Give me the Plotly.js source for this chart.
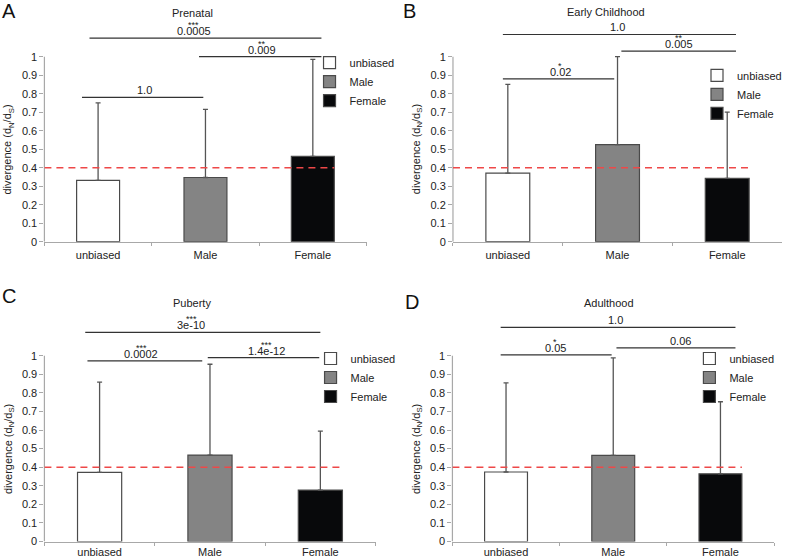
<!DOCTYPE html>
<html>
<head>
<meta charset="utf-8">
<script src="https://cdn.plot.ly/plotly-3.0.1.min.js"></script>
<style>
  body { margin: 0; background: #fff; }
  #grafica { width: 787px; height: 559px; }
</style>
</head>
<body>
<div id="grafica"></div>
<script>
const categories = ['unbiased', 'Male', 'Female'];
const panelTitles = ['Prenatal', 'Early Childhood', 'Puberty', 'Adulthood'];
const panelLetters = ['A', 'B', 'C', 'D'];

// mean divergence per category
const prenatal = [0.332, 0.347, 0.461];
const earlyChildhood = [0.371, 0.525, 0.342];
const puberty = [0.372, 0.465, 0.277];
const adulthood = [0.374, 0.463, 0.364];

// upper error bar length
const prenatalErr = [0.418, 0.368, 0.524];
const earlyChildhoodErr = [0.479, 0.475, 0.358];
const pubertyErr = [0.486, 0.489, 0.317];
const adulthoodErr = [0.48, 0.525, 0.388];

// brackets: [from, to, height, label x, p value, stars]
const prenatalBrackets = [[-0.15, 0.98, 0.78, 0.435, '1.0', ''], [0.94, 2.08, 1.0, 1.53, '0.009', '**'], [-0.08, 2.08, 1.1, 0.89, '0.0005', '***']];
const earlyChildhoodBrackets = [[-0.045, 0.97, 0.88, 0.48, '0.02', '*'], [1.035, 2.08, 1.03, 1.56, '0.005', '**'], [-0.045, 2.08, 1.12, 1.0, '1.0', '']];
const pubertyBrackets = [[-0.11, 0.93, 0.972, 0.377, '0.0002', '***'], [0.98, 1.99, 0.99, 1.51, '1.4e-12', '***'], [-0.13, 2.0, 1.125, 0.83, '3e-10', '***']];
const adulthoodBrackets = [[-0.05, 0.985, 1.004, 0.46, '0.05', '*'], [1.03, 2.14, 1.042, 1.63, '0.06', ''], [-0.05, 2.14, 1.152, 1.02, '1.0', '']];

const yTicks = [0, 0.1, 0.2, 0.3, 0.4, 0.5, 0.6, 0.7, 0.8, 0.9, 1];
const neutralLine = 0.4;

const medias = [prenatal, earlyChildhood, puberty, adulthood];
const errores = [prenatalErr, earlyChildhoodErr, pubertyErr, adulthoodErr];
const corchetes = [prenatalBrackets, earlyChildhoodBrackets, pubertyBrackets, adulthoodBrackets];

const colores = ['#ffffff', '#848484', '#08090b'];
const fuente = '"Liberation Sans", Arial, sans-serif';
const texto = '#222222';

// subplot placement
const xDom = [[0.0565, 0.4663], [0.5763, 0.995], [0.0565, 0.4778], [0.5756, 0.9848]];
const yDom = [[0.5676, 0.9648], [0.5676, 0.9648], [0.0313, 0.4302], [0.0313, 0.4302]];
const legendPos = [[0.3933, 0.914], [0.887, 0.891], [0.3946, 0.3846], [0.876, 0.3846]];
const tituloPos = [[193, 13], [607, 12], [192, 303], [610, 303]];
const letraPos = [[9, 11], [410, 11], [9, 296], [413, 302]];
const separacion = [3, 3, 0, 0];

const data = [];
const shapes = [];
const annotations = [];
const layout = {
    width: 787,
    height: 559,
    margin: { l: 0, r: 0, t: 0, b: 0 },
    paper_bgcolor: '#ffffff',
    plot_bgcolor: 'rgba(0,0,0,0)',
    barmode: 'overlay',
    font: { family: fuente, size: 11, color: texto },
    shapes: shapes,
    annotations: annotations
};

for (let p = 0; p < 4; p++) {
    const sufijo = p === 0 ? '' : String(p + 1);
    const xa = 'x' + sufijo, ya = 'y' + sufijo;
    const leyenda = 'legend' + sufijo;

    for (let i = 0; i < categories.length; i++) {
        data.push({
            type: 'bar',
            name: categories[i],
            x: [categories[i]],
            y: [medias[p][i]],
            xaxis: xa,
            yaxis: ya,
            width: 0.4,
            legend: leyenda,
            marker: { color: colores[i], line: { color: '#4a4a4a', width: 1.2 } },
            error_y: {
                type: 'data', symmetric: false,
                array: [errores[p][i]], arrayminus: [0],
                color: '#555555', thickness: 1.3, width: 2.5
            },
            hoverinfo: 'skip'
        });
    }

    layout['xaxis' + sufijo] = {
        domain: xDom[p], anchor: ya, type: 'category',
        categoryorder: 'array', categoryarray: categories,
        range: [-0.5, 2.5], showline: true, linecolor: '#a8a8a8', linewidth: 1.2,
        ticks: 'outside', tickson: 'boundaries', ticklen: 3, tickcolor: '#a8a8a8',
        ticklabelstandoff: separacion[p],
        showgrid: false, zeroline: false, fixedrange: true,
        tickfont: { family: fuente, size: 11, color: texto }
    };
    layout['yaxis' + sufijo] = {
        domain: yDom[p], anchor: xa, range: [0, 1.2],
        tickvals: yTicks, ticktext: yTicks.map(v => String(v)),
        ticks: 'outside', ticklen: 4, tickcolor: '#a8a8a8',
        showline: false, showgrid: false, zeroline: false, fixedrange: true,
        tickfont: { family: fuente, size: 11, color: texto }
    };
    layout[leyenda] = {
        x: legendPos[p][0], y: legendPos[p][1], xanchor: 'left', yanchor: 'top',
        bgcolor: 'rgba(0,0,0,0)', borderwidth: 0,
        font: { family: fuente, size: 11, color: texto },
        traceorder: 'normal'
    };

    // y axis line only up to 1
    shapes.push({
        type: 'line', xref: xa + ' domain', yref: ya,
        x0: 0, x1: 0, y0: 0, y1: 1,
        line: { color: '#a8a8a8', width: 1.2 }
    });
    // dN/dS reference line
    shapes.push({
        type: 'line', xref: xa, yref: ya,
        x0: -0.5, x1: 2.2, y0: neutralLine, y1: neutralLine,
        line: { color: '#ee4848', width: 1.6, dash: '7px,5px' }
    });

    corchetes[p].forEach(c => {
        shapes.push({
            type: 'line', xref: xa, yref: ya,
            x0: c[0], x1: c[1], y0: c[2], y1: c[2],
            line: { color: '#333333', width: 1.2 }
        });
        annotations.push({
            xref: xa, yref: ya, x: c[3], y: c[2],
            text: c[4], showarrow: false, xanchor: 'center', yanchor: 'bottom', yshift: -1,
            font: { family: fuente, size: 11, color: texto }
        });
        if (c[5]) {
            annotations.push({
                xref: xa, yref: ya, x: c[3], y: c[2],
                text: c[5], showarrow: false, xanchor: 'center', yanchor: 'bottom', yshift: 6,
                font: { family: fuente, size: 9, color: texto }
            });
        }
    });

    // y axis title
    annotations.push({
        xref: xa + ' domain', yref: ya, x: 0, y: 0.5, xshift: -36,
        xanchor: 'center', yanchor: 'middle',
        text: 'divergence (d<sub>N</sub>/d<sub>S</sub>)', textangle: -90,
        showarrow: false, font: { family: fuente, size: 11, color: texto }
    });
    // panel title
    annotations.push({
        xref: 'paper', yref: 'paper',
        x: tituloPos[p][0] / 787, y: 1 - tituloPos[p][1] / 559,
        xanchor: 'center', yanchor: 'middle',
        text: panelTitles[p], showarrow: false,
        font: { family: fuente, size: 11, color: texto }
    });
    // panel letter
    annotations.push({
        xref: 'paper', yref: 'paper',
        x: letraPos[p][0] / 787, y: 1 - letraPos[p][1] / 559,
        xanchor: 'center', yanchor: 'middle',
        text: panelLetters[p], showarrow: false,
        font: { family: fuente, size: 20, color: '#111111' }
    });
}

Plotly.newPlot('grafica', data, layout, { displayModeBar: false, staticPlot: true });
</script>
</body>
</html>
